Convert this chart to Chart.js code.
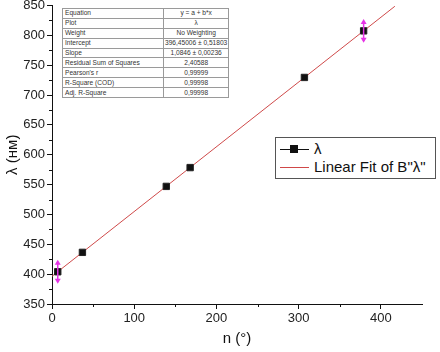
<!DOCTYPE html>
<html>
<head>
<meta charset="utf-8">
<script src="https://cdn.jsdelivr.net/npm/chart.js@4/dist/chart.umd.min.js"></script>
<style>
  body { margin: 0; background: #fff; }
  #wrap { position: relative; width: 440px; height: 352px; font-family: "Liberation Sans", Arial, sans-serif; }
  canvas { position: absolute; left: 0; top: 0; }
  #fit-table { position: absolute; left: 62px; top: 8px; border-collapse: collapse; font-size: 6.6px; color: #333; background: #fff; }
  #fit-table td { border: 1px solid #9a9a9a; height: 8.9px; padding: 0 2px; line-height: 8px; white-space: nowrap; }
  #fit-table td:first-child { width: 96px; }
  #fit-table td:last-child { width: 62px; text-align: center; padding: 0 1px; }
  #legend { position: absolute; left: 275px; top: 137px; width: 159px; height: 40px; border: 1px solid #555; background: #fff; font-size: 15px; color: #111; }
  .row { position: absolute; left: 0; height: 20px; }
  .sym { position: absolute; left: 4px; width: 29px; height: 1px; }
  .sq { position: absolute; left: 10px; top: -4px; width: 8px; height: 8px; background: #111; }
  .lbl { position: absolute; left: 38px; top: -9px; white-space: nowrap; }
</style>
</head>
<body>
<div id="wrap">
  <canvas id="chart" width="440" height="352"></canvas>
  <table id="fit-table"></table>
  <div id="legend">
    <div class="row" style="top:11px"><div class="sym" style="background:#111"><div class="sq"></div></div><div class="lbl">λ</div></div>
    <div class="row" style="top:29px"><div class="sym" style="background:#d04848"></div><div class="lbl">Linear Fit of B"λ"</div></div>
  </div>
</div>
<script>
// ── DATA ─────────────────────────────────────────────
const nDeg    = [7, 37, 139, 168, 307, 379];
const lambda  = [404, 436.5, 547, 578.5, 729.5, 807.5];
const errBar  = [20, 0, 0, 0, 0, 20];
const fitX    = [0, 417];
const fitY    = [396.45, 848.7];

const fitRows = [
  ["Equation", "y = a + b*x"],
  ["Plot", "λ"],
  ["Weight", "No Weighting"],
  ["Intercept", "396,45006 ± 0,51803"],
  ["Slope", "1,0846 ± 0,00236"],
  ["Residual Sum of Squares", "2,40588"],
  ["Pearson's r", "0,99999"],
  ["R-Square (COD)", "0,99998"],
  ["Adj. R-Square", "0,99998"]
];

document.getElementById('fit-table').innerHTML =
  fitRows.map(r => `<tr><td>${r[0]}</td><td>${r[1]}</td></tr>`).join('');

// minor ticks + error bars drawn on top of the axes
const extras = {
  id: 'extras',
  afterDatasetsDraw(chart) {
    const { ctx, scales: { x, y } } = chart;
    ctx.save();
    ctx.strokeStyle = '#e633e6';
    ctx.fillStyle = '#e633e6';
    ctx.lineWidth = 1.5;
    nDeg.forEach((v, i) => {
      if (!errBar[i]) return;
      const px = x.getPixelForValue(v);
      const top = y.getPixelForValue(lambda[i] + errBar[i]);
      const bot = y.getPixelForValue(lambda[i] - errBar[i]);
      ctx.beginPath();
      ctx.moveTo(px, top + 2); ctx.lineTo(px, bot - 2);
      ctx.stroke();
      [[top, 1], [bot, -1]].forEach(([py, d]) => {
        ctx.beginPath();
        ctx.moveTo(px, py);
        ctx.lineTo(px - 3, py + 5 * d);
        ctx.lineTo(px + 3, py + 5 * d);
        ctx.closePath();
        ctx.fill();
      });
    });
    ctx.restore();
  },
  afterDraw(chart) {
    const { ctx, scales: { x, y } } = chart;
    ctx.save();
    ctx.strokeStyle = '#111';
    ctx.lineWidth = 1;
    for (let v = 375; v < 850; v += 50) {
      const py = Math.round(y.getPixelForValue(v)) + 0.5;
      ctx.beginPath(); ctx.moveTo(x.left - 3, py); ctx.lineTo(x.left, py); ctx.stroke();
    }
    for (let v = 50; v < 450; v += 100) {
      const px = Math.round(x.getPixelForValue(v)) + 0.5;
      ctx.beginPath(); ctx.moveTo(px, y.bottom); ctx.lineTo(px, y.bottom + 3); ctx.stroke();
    }
    ctx.restore();
  }
};

new Chart(document.getElementById('chart'), {
  type: 'scatter',
  data: {
    datasets: [
      {
        label: 'Linear Fit of B"λ"',
        data: fitX.map((v, i) => ({ x: v, y: fitY[i] })),
        showLine: true,
        borderColor: '#cf4a4a',
        borderWidth: 1,
        pointRadius: 0,
        order: 2
      },
      {
        label: 'λ',
        data: nDeg.map((v, i) => ({ x: v, y: lambda[i] })),
        pointStyle: 'rect',
        pointRadius: 4.5,
        backgroundColor: '#111',
        borderColor: '#222',
        borderWidth: 1,
        order: 1
      }
    ]
  },
  plugins: [extras],
  options: {
    responsive: false,
    animation: false,
    layout: { padding: { top: 4, right: 18, left: 0, bottom: 0 } },
    plugins: { legend: { display: false }, tooltip: { enabled: false } },
    scales: {
      x: {
        min: 0, max: 450,
        afterFit: s => { s.height = 48; s.paddingLeft = 0; s.paddingRight = 0; },
        border: { color: '#111', width: 1 },
        grid: { display: true, drawOnChartArea: false, tickLength: 5, color: '#111' },
        ticks: {
          stepSize: 100, color: '#222', padding: 2,
          font: { family: 'Liberation Sans, Arial', size: 13 },
          callback: v => (v % 100 === 0 ? v : null)
        },
        title: { display: true, text: 'n (°)', color: '#111', padding: { top: 6 },
                 font: { family: 'Liberation Sans, Arial', size: 15 } }
      },
      y: {
        min: 350, max: 850,
        afterFit: s => { s.width = 52; s.paddingTop = 0; s.paddingBottom = 0; },
        border: { color: '#111', width: 1 },
        grid: { display: true, drawOnChartArea: false, tickLength: 5, color: '#111' },
        ticks: {
          stepSize: 50, color: '#222', padding: 2,
          font: { family: 'Liberation Sans, Arial', size: 13 }
        },
        title: { display: true, text: 'λ (нм)', color: '#111', padding: { bottom: 2 },
                 font: { family: 'Liberation Sans, Arial', size: 15 } }
      }
    }
  }
});
</script>
</body>
</html>
